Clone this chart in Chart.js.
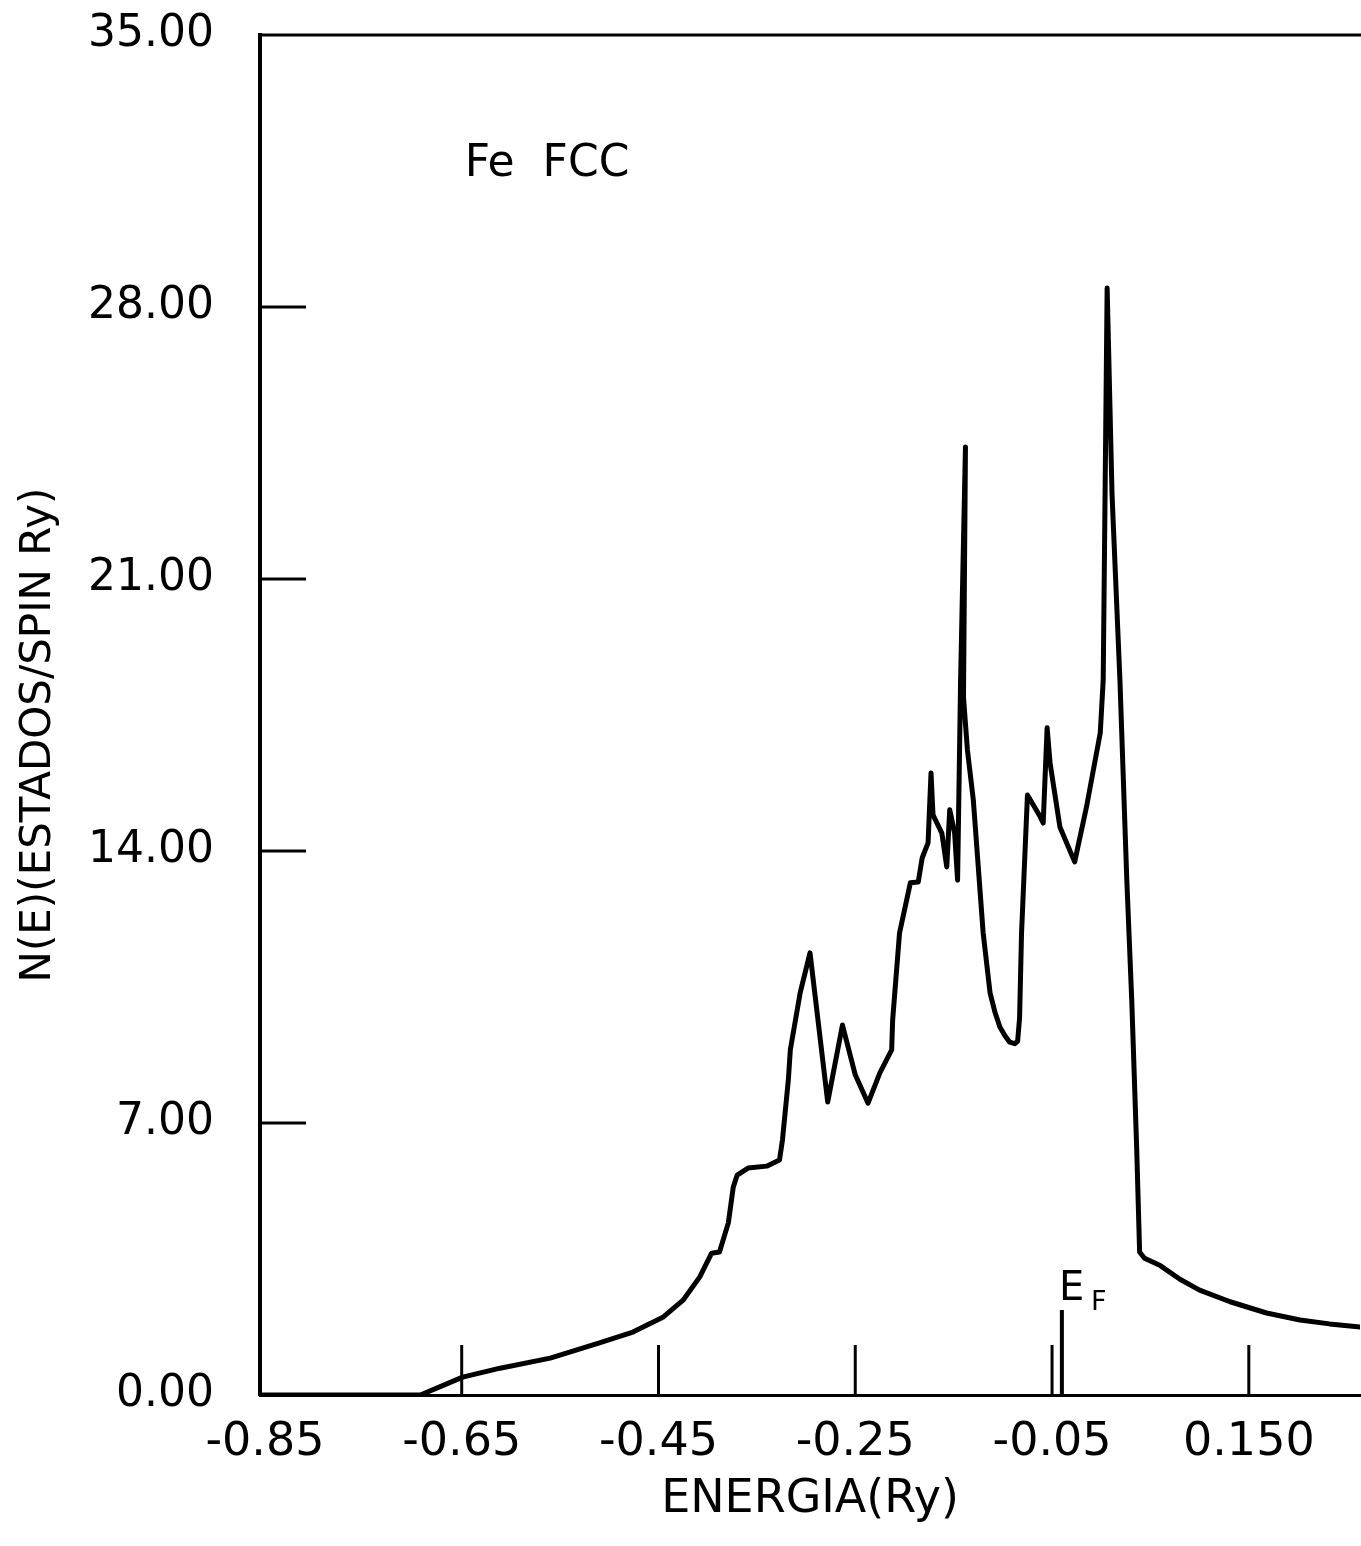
<!DOCTYPE html>
<html>
<head>
<meta charset="utf-8">
<title>Fe FCC - N(E)</title>
<script src="https://cdn.jsdelivr.net/npm/chart.js@4.4.1/dist/chart.umd.min.js"></script>
<style>
  body { margin: 0; background: #fff; }
  #wrap { position: relative; width: 1361px; height: 1546px; }
</style>
</head>
<body>
<div id="wrap"><canvas id="dos"></canvas></div>
<script>
// densidade de estados por spin, Fe FCC
const energy = [
  -0.855, -0.692, -0.649, -0.611, -0.560, -0.510, -0.476, -0.445, -0.425, -0.408,
  -0.396, -0.388, -0.379, -0.374, -0.370, -0.359, -0.340, -0.327, -0.324, -0.318,
  -0.316, -0.306, -0.296, -0.278, -0.263, -0.250, -0.237, -0.225, -0.213, -0.212,
  -0.205, -0.194, -0.186, -0.182, -0.176, -0.173, -0.171, -0.162, -0.157, -0.154,
  -0.149, -0.146, -0.144, -0.143, -0.138, -0.140, -0.136, -0.130, -0.120, -0.113,
  -0.108, -0.103, -0.098, -0.093, -0.088, -0.085, -0.083, -0.081, -0.075, -0.062,
  -0.059, -0.055, -0.052, -0.042, -0.027, -0.015, -0.001, 0.002, 0.006, 0.011,
  0.019, 0.026, 0.031, 0.036, 0.039, 0.044, 0.060, 0.080, 0.100, 0.131,
  0.168, 0.202, 0.232, 0.263
];
const dos = [
  0.00, 0.00, 0.46, 0.69, 0.95, 1.34, 1.62, 2.01, 2.44, 3.04,
  3.65, 3.68, 4.43, 5.35, 5.66, 5.84, 5.89, 6.05, 6.56, 8.11,
  8.88, 10.35, 11.38, 7.54, 9.52, 8.24, 7.51, 8.29, 8.88, 9.65,
  11.89, 13.18, 13.20, 13.82, 14.21, 16.01, 14.93, 14.46, 13.59, 15.06,
  14.46, 13.25, 16.60, 18.32, 24.40, 17.96, 16.60, 15.31, 11.89, 10.35,
  9.85, 9.47, 9.25, 9.08, 9.04, 9.10, 9.70, 11.89, 15.44, 14.88,
  14.72, 17.17, 16.26, 14.62, 13.72, 15.13, 17.04, 18.40, 28.49, 23.16,
  18.40, 13.25, 10.17, 6.38, 3.68, 3.52, 3.33, 2.98, 2.70, 2.40,
  2.11, 1.93, 1.83, 1.75
];

const xTicks = [-0.85, -0.65, -0.45, -0.25, -0.05, 0.15];
const xTickLabels = ['-0.85', '-0.65', '-0.45', '-0.25', '-0.05', '0.150'];
const yTicks = [0, 7, 14, 21, 28, 35];
const fermiEnergy = -0.04;

const FONT = 'DejaVu Sans';

// moldura superior, marcas internas dos eixos e anotacoes
const frame = {
  id: 'frame',
  afterDraw(chart) {
    const { ctx, chartArea: a, scales: { x, y } } = chart;
    ctx.save();
    ctx.strokeStyle = '#000';
    ctx.fillStyle = '#000';

    ctx.lineWidth = 3;
    ctx.beginPath();
    ctx.moveTo(a.left - 2, a.top);
    ctx.lineTo(a.right + 1, a.top);
    ctx.stroke();

    yTicks.slice(1, -1).forEach(v => {
      const p = y.getPixelForValue(v);
      ctx.beginPath();
      ctx.moveTo(a.left, p);
      ctx.lineTo(a.left + 46, p);
      ctx.stroke();
    });

    xTicks.slice(1).forEach(v => {
      const p = x.getPixelForValue(v);
      ctx.beginPath();
      ctx.moveTo(p, a.bottom);
      ctx.lineTo(p, a.bottom - 50);
      ctx.stroke();
    });

    // nivel de Fermi
    const ef = x.getPixelForValue(fermiEnergy);
    ctx.lineWidth = 4;
    ctx.beginPath();
    ctx.moveTo(ef, a.bottom);
    ctx.lineTo(ef, a.bottom - 85);
    ctx.stroke();

    ctx.textAlign = 'left';
    ctx.textBaseline = 'alphabetic';
    ctx.font = '40px "' + FONT + '"';
    ctx.fillText('E', ef - 3, a.bottom - 95);
    ctx.font = '27px "' + FONT + '"';
    ctx.fillText('F', ef + 29, a.bottom - 85);

    ctx.font = '44px "' + FONT + '"';
    ctx.fillText('Fe  FCC', x.getPixelForValue(-0.647), y.getPixelForValue(31.36));
    ctx.restore();
  }
};

new Chart(document.getElementById('dos'), {
  type: 'line',
  data: {
    datasets: [{
      data: energy.map((e, i) => ({ x: e, y: dos[i] })),
      borderColor: '#000',
      borderWidth: 5,
      borderJoinStyle: 'round',
      borderCapStyle: 'round',
      pointRadius: 0,
      tension: 0,
      fill: false
    }]
  },
  options: {
    responsive: true,
    maintainAspectRatio: false,
    animation: false,
    layout: { padding: 0 },
    plugins: { legend: { display: false }, tooltip: { enabled: false } },
    scales: {
      x: {
        type: 'linear',
        min: -0.855,
        max: 0.263,
        afterBuildTicks: s => { s.ticks = xTicks.map(v => ({ value: v })); },
        afterFit: s => { s.height = 151; s.paddingLeft = 0; s.paddingRight = 1; },
        grid: { drawOnChartArea: false, drawTicks: false },
        border: { display: true, color: '#000', width: 3 },
        ticks: {
          callback: (v, i) => xTickLabels[i],
          autoSkip: false,
          maxRotation: 0,
          padding: 20,
          color: '#000',
          font: { family: FONT, size: 46 }
        },
        title: {
          display: true,
          text: 'ENERGIA(Ry)',
          color: '#000',
          font: { family: FONT, size: 46 },
          padding: { top: 0, bottom: 18 }
        }
      },
      y: {
        type: 'linear',
        min: 0,
        max: 35,
        afterBuildTicks: s => { s.ticks = yTicks.map(v => ({ value: v })); },
        afterFit: s => { s.width = 260; s.paddingTop = 35; s.paddingBottom = 0; },
        grid: { drawOnChartArea: false, drawTicks: false },
        border: { display: true, color: '#000', width: 4 },
        ticks: {
          callback: v => v.toFixed(2),
          padding: 46,
          color: '#000',
          font: { family: FONT, size: 44 }
        },
        title: {
          display: true,
          // espacos finais descem o titulo ao longo do eixo
          text: 'N(E)(ESTADOS/SPIN Ry)   ',
          color: '#000',
          font: { family: FONT, size: 42 },
          padding: { top: 14, bottom: 0 }
        }
      }
    }
  },
  plugins: [frame]
});
</script>
</body>
</html>
